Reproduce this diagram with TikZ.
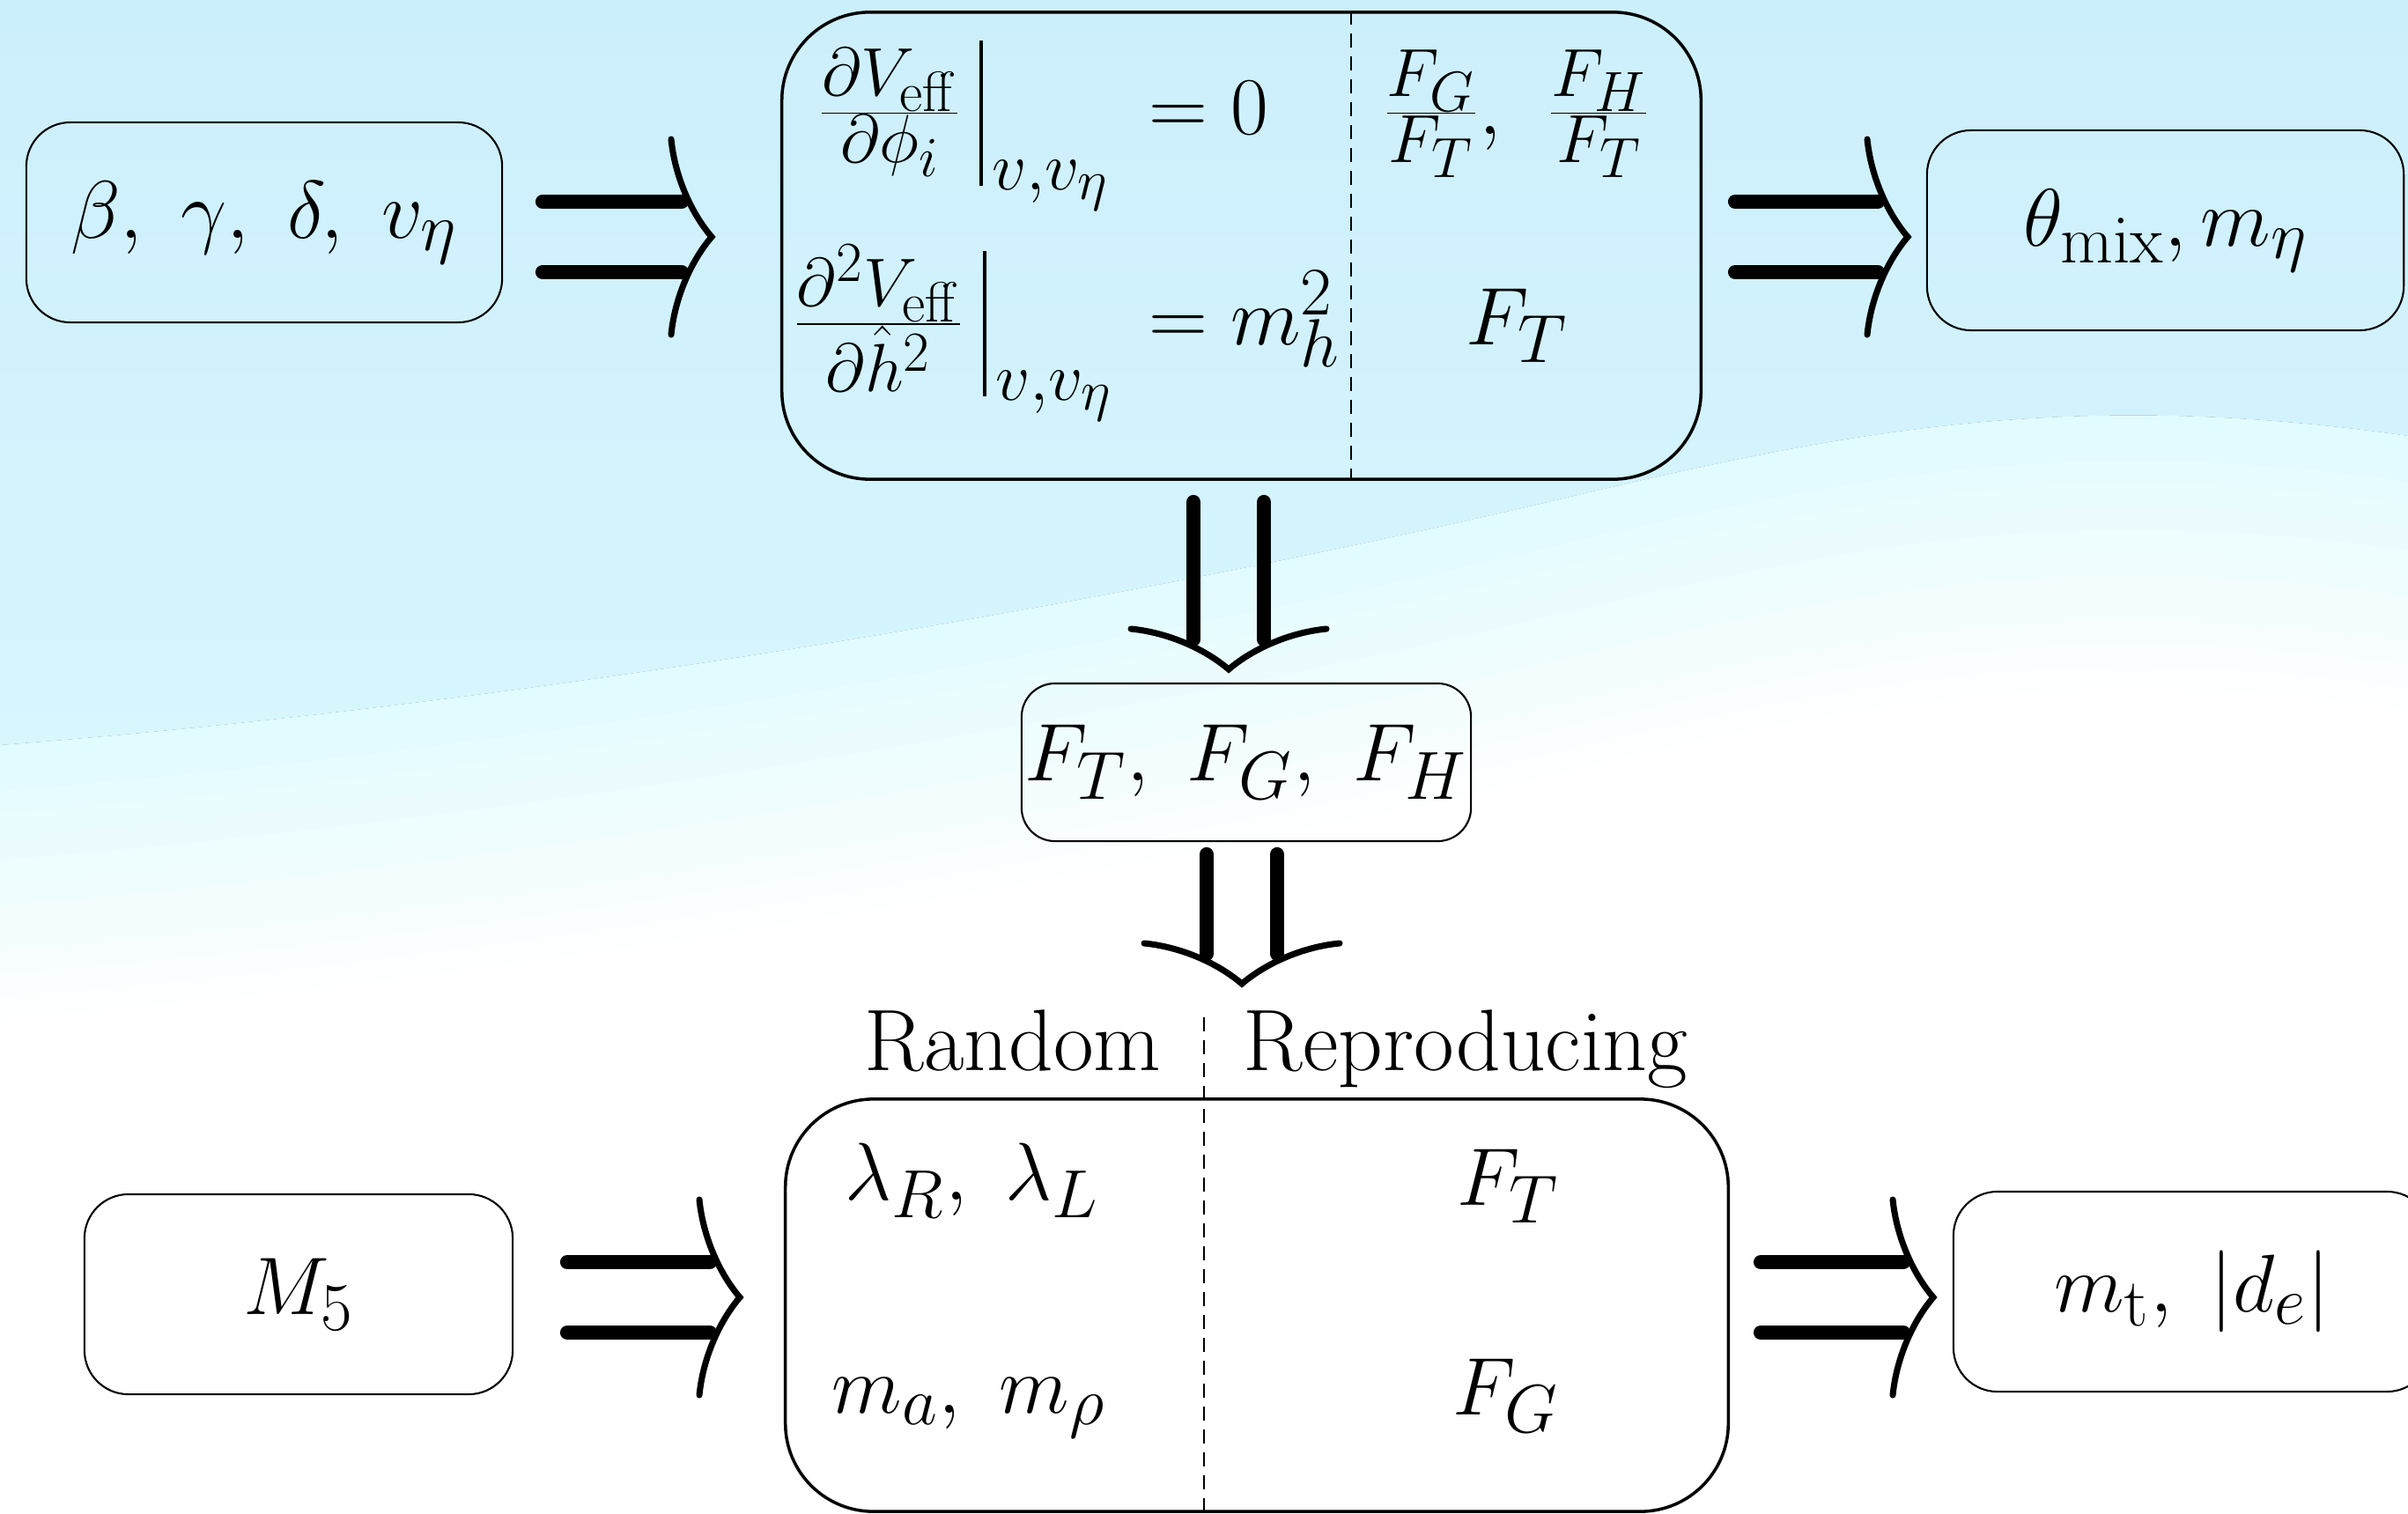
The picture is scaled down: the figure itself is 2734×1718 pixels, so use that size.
\documentclass[tikz,border=0pt]{standalone}
\usepackage{fix-cm}
\usetikzlibrary{calc}
\DeclareMathSizes{26.4}{26.4}{22}{18.3}
\newcommand\myMfont{\fontsize{26.4}{32}\selectfont}
\newcommand\myTfont{\fontsize{28.2}{34}\selectfont}
\definecolor{bgtop}{HTML}{CCEFFC}
\definecolor{bgmid}{HTML}{D7F6FE}
\definecolor{bglow}{HTML}{E2FBFE}
\tikzset{
  implarrow/.pic={
    \draw[line width=4.6pt, line cap=round] (-#1,-40) -- (-34,-40) (-#1,40) -- (-34,40);
    \draw[line width=2pt, line cap=round, line join=miter]
      (-46,-111) .. controls (-42,-70) and (-24,-28) .. (0,0)
      .. controls (-24,28) and (-42,70) .. (-46,111);
  }
}
\begin{document}
\begin{tikzpicture}[x=0.01cm,y=-0.01cm,
  sbox/.style={draw, line width=0.6pt, rounded corners=0.5cm, inner sep=0pt, font=\myMfont},
  bigbox/.style={draw, line width=1pt, rounded corners=1cm, inner sep=0pt},
  txt/.style={inner sep=0pt, font=\myMfont},
  ttxt/.style={inner sep=0pt, font=\myTfont},
  dline/.style={line width=0.55pt, dash pattern=on 0.16cm off 0.1cm}]
\useasboundingbox (0,0) rectangle (2734,1718);
\clip (0,0) rectangle (2734,1718);
% background
\fill[white] (0,0) rectangle (2734,1718);
\fill[top color=bgtop, bottom color=bgmid] (0,0) -- (2734,0) -- (2734,495)
  .. controls (2350,440) and (2100,490) .. (1800,560)
  .. controls (1300,680) and (600,800) .. (0,846) -- cycle;
\foreach \k in {0,...,12} {
  \pgfmathsetmacro\pc{100-100*\k/12}
  \fill[bglow!\pc!white, shift={(0,\k*26)}] (0,846)
    .. controls (600,800) and (1300,680) .. (1800,560)
    .. controls (2100,490) and (2350,440) .. (2734,495)
    -- (2734,2100) -- (0,2100) -- cycle;
}
% boxes
\node[sbox, minimum width=5.40cm, minimum height=2.27cm] (b1) at (300,252.5) {$\beta,~\gamma,~\delta,~v_\eta$};
\node[bigbox, minimum width=10.43cm, minimum height=5.30cm] (tb) at (1409.5,279) {};
\node[sbox, minimum width=5.41cm, minimum height=2.27cm] (b2) at (2458.5,261.5) {$\theta_{\mathrm{mix}}, m_\eta$};
\node[sbox, rounded corners=0.38cm, minimum width=5.10cm, minimum height=1.79cm] (fb) at (1415,865.5) {$F_T,~F_G,~F_H$};
\node[bigbox, minimum width=10.70cm, minimum height=4.68cm] (bb) at (1427,1482) {};
\node[sbox, minimum width=4.86cm, minimum height=2.27cm] (m5) at (339,1469.5) {$M_5$};
\node[sbox, minimum width=5.42cm, minimum height=2.27cm] (mt) at (2489,1466.5) {$m_{\mathrm{t}},~|d_e|$};
% dashed separators
\coordinate (tdash) at (1534,0);
\draw[dline] (tb.north -| tdash) -- (tb.south -| tdash);
\coordinate (bdash) at (1367,1155);
\draw[dline] (bdash) -- (bb.south -| bdash);
% top box contents
\node[txt, anchor=base east] (r1a) at (1092,152) {$\frac{\partial V_{\mathrm{eff}}}{\partial\phi_i}$};
\node[txt, anchor=base west] (r1s) at (1111,152) {${\rule[-0.64em]{1.2pt}{1.78em}}_{\hspace{3pt}v,v_\eta}$};
\node[txt, anchor=base west] (r1b) at (1304,152) {$=0$};
\node[txt, anchor=base east] (r2a) at (1095,391) {$\frac{\partial^2 V_{\mathrm{eff}}}{\partial\hat{h}^2}$};
\node[txt, anchor=base west] (r2s) at (1115,391) {${\rule[-0.64em]{1.2pt}{1.78em}}_{\hspace{3pt}v,v_\eta}$};
\node[txt, anchor=base west] (r2b) at (1304,391) {$=m_h^2$};
\node[txt, anchor=base] (r1c) at (1722,152) {$\frac{F_G}{F_T},\hspace{0.4em}\frac{F_H}{F_T}$};
\node[txt, anchor=base] (r2c) at (1722,391) {$F_T$};
% bottom box contents
\node[ttxt, anchor=base] (rand) at (1150,1215) {Random};
\node[ttxt, anchor=base] (repr) at (1664,1215) {Reproducing};
\node[txt, anchor=base] (lam) at (1104,1362) {$\lambda_R,~\lambda_L$};
\node[txt, anchor=base] (mam) at (1100,1604) {$m_a,~m_\rho$};
\node[txt, anchor=base] (bft) at (1712,1368) {$F_T$};
\node[txt, anchor=base] (bfg) at (1710,1606) {$F_G$};
% arrows
\coordinate (a1) at (808,269);
\coordinate (a2) at (2166,269);
\coordinate (a3) at (840,1473);
\coordinate (a4) at (2195,1473);
\coordinate (d1) at (1395,760);
\coordinate (d2) at (1410,1117);
\pic at (a1) {implarrow=192};
\pic at (a2) {implarrow=196};
\pic at (a3) {implarrow=196};
\pic at (a4) {implarrow=196};
\pic[rotate=-90] at (d1) {implarrow=190};
\pic[rotate=-90] at (d2) {implarrow=147};
\end{tikzpicture}
\end{document}
